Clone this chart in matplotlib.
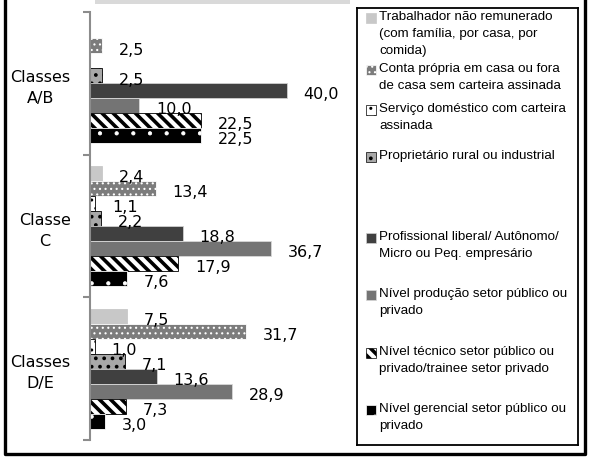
import matplotlib
matplotlib.use("Agg")
import matplotlib.pyplot as plt
import numpy as np
from matplotlib.patches import Rectangle
from matplotlib.lines import Line2D

# data
categories = ["Classes\nA/B", "Classe\nC", "Classes\nD/E"]
series_names = [
    "Trabalhador não remunerado\n(com família, por casa, por\ncomida)",
    "Conta própria em casa ou fora\nde casa sem carteira assinada",
    "Serviço doméstico com carteira\nassinada",
    "Proprietário rural ou industrial",
    "Profissional liberal/ Autônomo/\nMicro ou Peq. empresário",
    "Nível produção setor público ou\nprivado",
    "Nível técnico setor público ou\nprivado/trainee setor privado",
    "Nível gerencial setor público ou\nprivado",
]
trabalhador = [0.0, 2.4, 7.5]
conta_propria = [2.5, 13.4, 31.7]
servico_domestico = [0.0, 1.1, 1.0]
proprietario = [2.5, 2.2, 7.1]
profissional = [40.0, 18.8, 13.6]
producao = [10.0, 36.7, 28.9]
tecnico = [22.5, 17.9, 7.3]
gerencial = [22.5, 7.6, 3.0]
series_values = [trabalhador, conta_propria, servico_domestico, proprietario,
                 profissional, producao, tecnico, gerencial]

# styles: facecolor, hatch colour, hatch, hatch linewidth
styles = [
    ("#c8c8c8", "#c8c8c8", None, 1.0),
    ("#7c7c7c", "white", "...", 0.8),
    ("white", "black", "..", 1.0),
    ("#a8a8a8", "black", "..", 1.5),
    ("#404040", "#d0d0d0", None, 1.0),
    ("#747474", "#d8d8d8", None, 1.0),
    ("white", "black", "\\\\\\", 2.6),
    ("black", "white", ".", 0.6),
]

W, H = 590, 458
fig = plt.figure(figsize=(W / 100, H / 100), dpi=100)

# main axes (pixel boxes from the reference)
ax_l, ax_r, ax_t, ax_b = 90, 346, 12, 440
ax = fig.add_axes([ax_l / W, 1 - ax_b / H, (ax_r - ax_l) / W, (ax_b - ax_t) / H])

n = len(series_values)
bar_h = 0.105
y = np.arange(len(categories))
for i, (vals, (fc, ec, hatch, hlw)) in enumerate(zip(series_values, styles)):
    pos = y - n * bar_h / 2 + (i + 0.5) * bar_h
    with plt.rc_context({"hatch.linewidth": hlw}):
        ax.barh(pos, vals, height=bar_h, color=fc, edgecolor=ec, hatch=hatch,
                linewidth=0.6)
    for p, v in zip(pos, vals):
        if v == 0:
            continue
        ax.annotate(f"{v:.1f}".replace(".", ","), (v, p), xytext=(12, -3),
                    textcoords="offset points", ha="left", va="center",
                    fontsize=11.5, color="black")

ax.set_xlim(0, 52)
ax.set_ylim(2.5, -0.5)
for s in ["top", "right", "bottom"]:
    ax.spines[s].set_visible(False)
ax.spines["left"].set_color("#8c8c8c")
ax.spines["left"].set_linewidth(1.5)
ax.set_xticks([])
ax.set_yticks([-0.5, 0.5, 1.5, 2.5])
ax.set_yticklabels([])
ax.tick_params(axis="y", which="major", length=5, width=1.5, color="#8c8c8c")
ax.set_yticks(y, minor=True)
ax.set_yticklabels(categories, minor=True, fontsize=11.5, linespacing=1.5,
                   multialignment="center")
ax.tick_params(axis="y", which="minor", length=0, pad=14)

# legend box drawn by hand in pixel coordinates
lg_l, lg_r, lg_t, lg_b = 357, 578, 8, 445
lax = fig.add_axes([lg_l / W, 1 - lg_b / H, (lg_r - lg_l) / W, (lg_b - lg_t) / H])
lax.set_xlim(lg_l, lg_r)
lax.set_ylim(lg_b, lg_t)
lax.set_xticks([])
lax.set_yticks([])
for s in lax.spines.values():
    s.set_linewidth(1.3)
    s.set_color("black")
entry_y = [18, 70, 110, 157, 238, 295, 353, 410]
for name, (fc, ec, hatch, hlw), ey in zip(series_names, styles, entry_y):
    with plt.rc_context({"hatch.linewidth": hlw}):
        lax.add_patch(Rectangle((366, ey - 5), 10, 10, facecolor=fc, edgecolor=ec,
                                hatch=hatch, linewidth=0.5))
    lax.text(379, ey - 7, name, ha="left", va="top", fontsize=9.6,
             family=["Liberation Sans", "DejaVu Sans"], linespacing=1.55)

# grey strip at the top and the outer frame
fig.add_artist(Rectangle((95 / W, 1 - 4 / H), (350 - 95) / W, 4 / H,
                         transform=fig.transFigure, facecolor="#d9d9d9",
                         edgecolor="none"))
fig.add_artist(Line2D([4.5 / W, 4.5 / W, 585 / W, 585 / W],
                      [1, 1 - 454 / H, 1 - 454 / H, 1],
                      transform=fig.transFigure, color="black", linewidth=2.4))

fig.savefig("out.png", dpi=100)
